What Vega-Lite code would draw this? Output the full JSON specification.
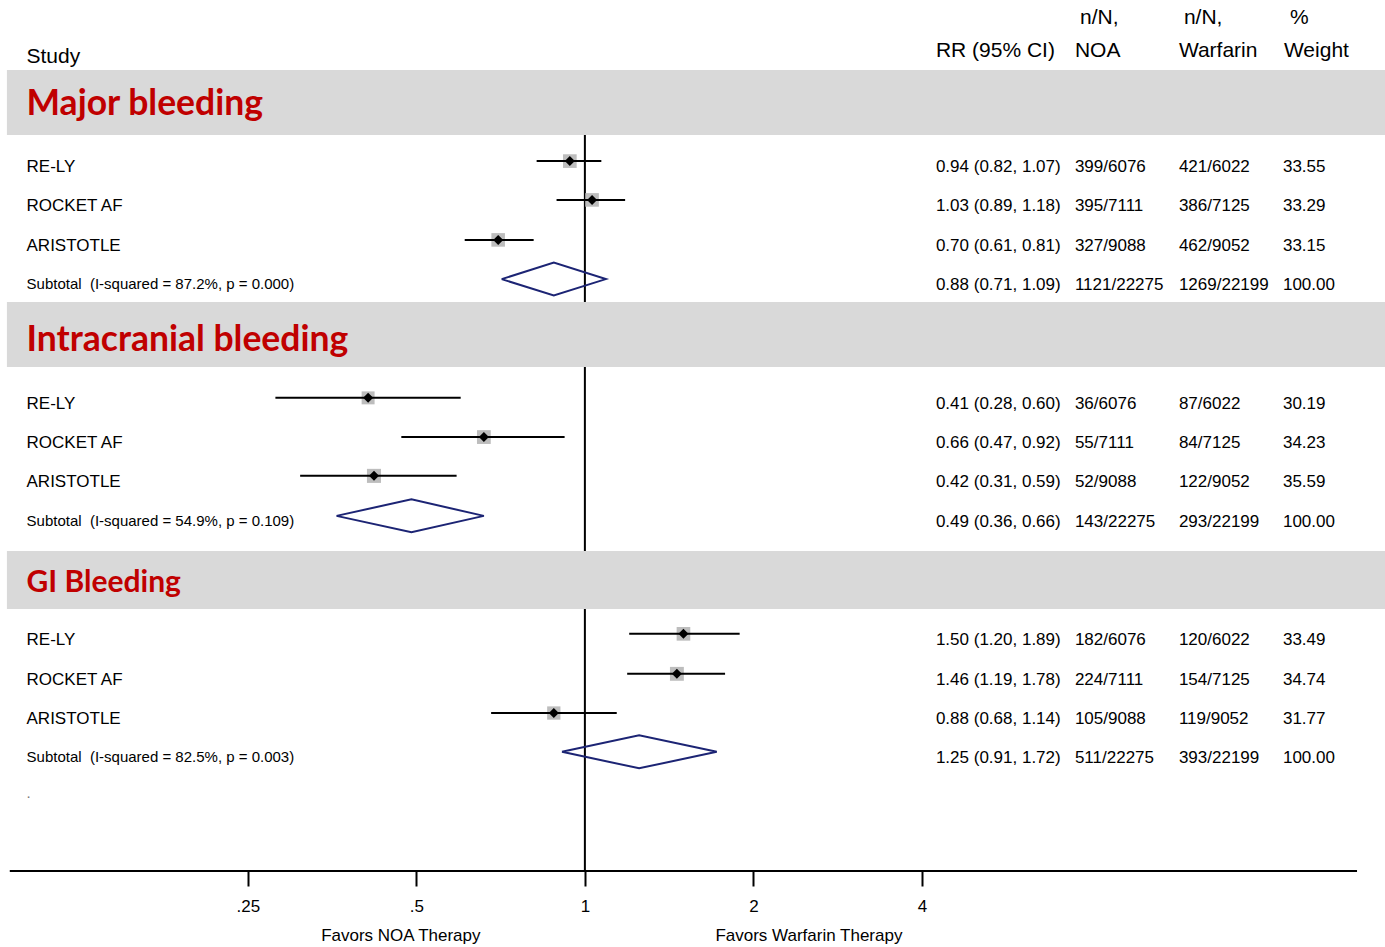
{
  "$schema": "https://vega.github.io/schema/vega-lite/v6.json",
  "width": 1385,
  "height": 871,
  "padding": 0,
  "background": "white",
  "config": {"view": {"stroke": null}, "font": "Liberation Sans", "text": {"font": "Liberation Sans", "color": "black"}},
  "datasets": {
    "rows": [
      {"grp": "Major bleeding", "kind": "study", "label": "RE-LY", "y": 4.11, "est": 0.94, "lo": 0.82, "hi": 1.07, "rr": "0.94 (0.82, 1.07)", "noa": "399/6076", "war": "421/6022", "w": 33.55},
      {"grp": "Major bleeding", "kind": "study", "label": "ROCKET AF", "y": 5.10, "est": 1.03, "lo": 0.89, "hi": 1.18, "rr": "1.03 (0.89, 1.18)", "noa": "395/7111", "war": "386/7125", "w": 33.29},
      {"grp": "Major bleeding", "kind": "study", "label": "ARISTOTLE", "y": 6.12, "est": 0.70, "lo": 0.61, "hi": 0.81, "rr": "0.70 (0.61, 0.81)", "noa": "327/9088", "war": "462/9052", "w": 33.15},
      {"grp": "Major bleeding", "kind": "subtotal", "label": "Subtotal\u00a0\u00a0(I-squared = 87.2%, p = 0.000)", "y": 7.12, "est": 0.88, "lo": 0.71, "hi": 1.09, "rr": "0.88 (0.71, 1.09)", "noa": "1121/22275", "war": "1269/22199", "w": 100.00},
      {"grp": "Intracranial bleeding", "kind": "study", "label": "RE-LY", "y": 10.15, "est": 0.41, "lo": 0.28, "hi": 0.60, "rr": "0.41 (0.28, 0.60)", "noa": "36/6076", "war": "87/6022", "w": 30.19},
      {"grp": "Intracranial bleeding", "kind": "study", "label": "ROCKET AF", "y": 11.15, "est": 0.66, "lo": 0.47, "hi": 0.92, "rr": "0.66 (0.47, 0.92)", "noa": "55/7111", "war": "84/7125", "w": 34.23},
      {"grp": "Intracranial bleeding", "kind": "study", "label": "ARISTOTLE", "y": 12.14, "est": 0.42, "lo": 0.31, "hi": 0.59, "rr": "0.42 (0.31, 0.59)", "noa": "52/9088", "war": "122/9052", "w": 35.59},
      {"grp": "Intracranial bleeding", "kind": "subtotal", "label": "Subtotal\u00a0\u00a0(I-squared = 54.9%, p = 0.109)", "y": 13.16, "est": 0.49, "lo": 0.36, "hi": 0.66, "rr": "0.49 (0.36, 0.66)", "noa": "143/22275", "war": "293/22199", "w": 100.00},
      {"grp": "GI Bleeding", "kind": "study", "label": "RE-LY", "y": 16.17, "est": 1.50, "lo": 1.20, "hi": 1.89, "rr": "1.50 (1.20, 1.89)", "noa": "182/6076", "war": "120/6022", "w": 33.49},
      {"grp": "GI Bleeding", "kind": "study", "label": "ROCKET AF", "y": 17.19, "est": 1.46, "lo": 1.19, "hi": 1.78, "rr": "1.46 (1.19, 1.78)", "noa": "224/7111", "war": "154/7125", "w": 34.74},
      {"grp": "GI Bleeding", "kind": "study", "label": "ARISTOTLE", "y": 18.19, "est": 0.88, "lo": 0.68, "hi": 1.14, "rr": "0.88 (0.68, 1.14)", "noa": "105/9088", "war": "119/9052", "w": 31.77},
      {"grp": "GI Bleeding", "kind": "subtotal", "label": "Subtotal\u00a0\u00a0(I-squared = 82.5%, p = 0.003)", "y": 19.18, "est": 1.25, "lo": 0.91, "hi": 1.72, "rr": "1.25 (0.91, 1.72)", "noa": "511/22275", "war": "393/22199", "w": 100.00}
    ],
    "dia": [
      {"grp": "Major bleeding", "ord": 1, "v": 0.71, "y": 7.12},
      {"grp": "Major bleeding", "ord": 2, "v": 0.88, "y": 6.70},
      {"grp": "Major bleeding", "ord": 3, "v": 1.09, "y": 7.12},
      {"grp": "Major bleeding", "ord": 4, "v": 0.88, "y": 7.54},
      {"grp": "Major bleeding", "ord": 5, "v": 0.71, "y": 7.12},
      {"grp": "Intracranial bleeding", "ord": 1, "v": 0.36, "y": 13.16},
      {"grp": "Intracranial bleeding", "ord": 2, "v": 0.49, "y": 12.74},
      {"grp": "Intracranial bleeding", "ord": 3, "v": 0.66, "y": 13.16},
      {"grp": "Intracranial bleeding", "ord": 4, "v": 0.49, "y": 13.58},
      {"grp": "Intracranial bleeding", "ord": 5, "v": 0.36, "y": 13.16},
      {"grp": "GI Bleeding", "ord": 1, "v": 0.91, "y": 19.18},
      {"grp": "GI Bleeding", "ord": 2, "v": 1.25, "y": 18.76},
      {"grp": "GI Bleeding", "ord": 3, "v": 1.72, "y": 19.18},
      {"grp": "GI Bleeding", "ord": 4, "v": 1.25, "y": 19.60},
      {"grp": "GI Bleeding", "ord": 5, "v": 0.91, "y": 19.18}
    ],
    "bands": [
      {"grp": "Major bleeding", "y1": 1.786, "y2": 3.444},
      {"grp": "Intracranial bleeding", "y1": 7.704, "y2": 9.362},
      {"grp": "GI Bleeding", "y1": 14.056, "y2": 15.536}
    ],
    "titles": [
      {"grp": "Major bleeding", "t": "Major bleeding", "y": 2.93},
      {"grp": "Intracranial bleeding", "t": "Intracranial bleeding", "y": 8.96},
      {"grp": "GI Bleeding", "t": "GI Bleeding", "y": 15.10}
    ],
    "headers": [
      {"col": "study", "y": 1.61, "t": "Study"},
      {"col": "rr", "y": 1.46, "t": "RR (95% CI)"},
      {"col": "noa1", "y": 0.61, "t": "n/N,"},
      {"col": "noa", "y": 1.46, "t": "NOA"},
      {"col": "war1", "y": 0.61, "t": "n/N,"},
      {"col": "war", "y": 1.46, "t": "Warfarin"},
      {"col": "wt1", "y": 0.61, "t": "%"},
      {"col": "wt", "y": 1.46, "t": "Weight"}
    ],
    "notes": [
      {"side": "noa", "t": "Favors NOA Therapy", "y": 23.88},
      {"side": "war", "t": "Favors Warfarin Therapy", "y": 23.88},
      {"side": "dot", "t": ".", "y": 20.36}
    ]
  },
  "layer": [
    {
      "data": {"values": [{"ref": 1, "y1": 3.444, "y2": 22.22}]},
      "mark": {"type": "rule", "strokeWidth": 2, "color": "black"},
      "encoding": {
        "x": {"field": "ref", "type": "quantitative", "scale": {"type": "log", "domain": [0.0902, 26.87], "nice": false},
          "axis": {"values": [0.25, 0.5, 1, 2, 4], "labelExpr": "datum.value < 1 ? replace(toString(datum.value), '0.', '.') : toString(datum.value)", "domain": false, "grid": false, "ticks": true, "tickSize": 15, "tickWidth": 2, "tickColor": "black", "labelFontSize": 17, "labelFont": "Liberation Sans", "labelColor": "black", "labelPadding": 12, "title": null, "labelFlush": false, "labelOverlap": false}},
        "y": {"field": "y1", "type": "quantitative", "scale": {"domain": [0, 22.22], "reverse": true, "nice": false, "zero": false}, "axis": null},
        "y2": {"field": "y2"}
      }
    },
    {
      "data": {"name": "bands"},
      "mark": {"type": "rect", "color": "#d9d9d9"},
      "encoding": {
        "x": {"datum": 0.0928, "type": "quantitative"},
        "x2": {"datum": 26.87},
        "y": {"field": "y1", "type": "quantitative", "axis": null},
        "y2": {"field": "y2"}
      }
    },
    {
      "data": {"name": "titles"},
      "transform": [{"filter": "datum.grp != 'GI Bleeding'"}],
      "mark": {"type": "text", "align": "left", "baseline": "alphabetic", "font": "Lato", "fontWeight": "bold", "fontSize": 35.5, "color": "#c00000"},
      "encoding": {
        "x": {"datum": 0.1006, "type": "quantitative"},
        "y": {"field": "y", "type": "quantitative", "axis": null},
        "text": {"field": "t"}
      }
    },
    {
      "data": {"name": "titles"},
      "transform": [{"filter": "datum.grp == 'GI Bleeding'"}],
      "mark": {"type": "text", "align": "left", "baseline": "alphabetic", "font": "Lato", "fontWeight": "bold", "fontSize": 30, "color": "#c00000"},
      "encoding": {
        "x": {"datum": 0.1006, "type": "quantitative"},
        "y": {"field": "y", "type": "quantitative", "axis": null},
        "text": {"field": "t"}
      }
    },
    {
      "data": {"name": "rows"},
      "transform": [{"filter": "datum.kind == 'study'"}],
      "mark": {"type": "point", "shape": "square", "filled": true, "color": "#bdbdbd", "opacity": 1},
      "encoding": {
        "x": {"field": "est", "type": "quantitative"},
        "y": {"field": "y", "type": "quantitative", "axis": null},
        "size": {"field": "w", "type": "quantitative", "scale": {"domain": [0, 36], "range": [0, 200]}, "legend": null}
      }
    },
    {
      "data": {"name": "rows"},
      "transform": [{"filter": "datum.kind == 'study'"}],
      "mark": {"type": "rule", "strokeWidth": 2, "color": "black"},
      "encoding": {
        "x": {"field": "lo", "type": "quantitative"},
        "x2": {"field": "hi"},
        "y": {"field": "y", "type": "quantitative", "axis": null}
      }
    },
    {
      "data": {"name": "rows"},
      "transform": [{"filter": "datum.kind == 'study'"}],
      "mark": {"type": "point", "shape": "diamond", "filled": true, "color": "black", "size": 100, "opacity": 1},
      "encoding": {
        "x": {"field": "est", "type": "quantitative"},
        "y": {"field": "y", "type": "quantitative", "axis": null}
      }
    },
    {
      "data": {"name": "dia"},
      "mark": {"type": "line", "strokeWidth": 2, "color": "#1c2474", "strokeJoin": "miter"},
      "encoding": {
        "x": {"field": "v", "type": "quantitative"},
        "y": {"field": "y", "type": "quantitative", "axis": null},
        "detail": {"field": "grp"},
        "order": {"field": "ord", "type": "quantitative"}
      }
    },
    {
      "data": {"name": "rows"},
      "transform": [{"filter": "datum.kind == 'study'"}],
      "mark": {"type": "text", "align": "left", "baseline": "middle", "dy": 6, "fontSize": 17},
      "encoding": {
        "x": {"datum": 0.1006, "type": "quantitative"},
        "y": {"field": "y", "type": "quantitative", "axis": null},
        "text": {"field": "label"}
      }
    },
    {
      "data": {"name": "rows"},
      "transform": [{"filter": "datum.kind == 'subtotal'"}],
      "mark": {"type": "text", "align": "left", "baseline": "middle", "dy": 5, "fontSize": 15},
      "encoding": {
        "x": {"datum": 0.1006, "type": "quantitative"},
        "y": {"field": "y", "type": "quantitative", "axis": null},
        "text": {"field": "label"}
      }
    },
    {
      "data": {"name": "rows"},
      "mark": {"type": "text", "align": "left", "baseline": "middle", "dy": 6, "fontSize": 17},
      "encoding": {
        "x": {"datum": 4.237, "type": "quantitative"},
        "y": {"field": "y", "type": "quantitative", "axis": null},
        "text": {"field": "rr"}
      }
    },
    {
      "data": {"name": "rows"},
      "mark": {"type": "text", "align": "left", "baseline": "middle", "dy": 6, "fontSize": 17},
      "encoding": {
        "x": {"datum": 7.505, "type": "quantitative"},
        "y": {"field": "y", "type": "quantitative", "axis": null},
        "text": {"field": "noa"}
      }
    },
    {
      "data": {"name": "rows"},
      "mark": {"type": "text", "align": "left", "baseline": "middle", "dy": 6, "fontSize": 17},
      "encoding": {
        "x": {"datum": 11.51, "type": "quantitative"},
        "y": {"field": "y", "type": "quantitative", "axis": null},
        "text": {"field": "war"}
      }
    },
    {
      "data": {"name": "rows"},
      "mark": {"type": "text", "align": "left", "baseline": "middle", "dy": 6, "fontSize": 17},
      "encoding": {
        "x": {"datum": 17.66, "type": "quantitative"},
        "y": {"field": "y", "type": "quantitative", "axis": null},
        "text": {"field": "w", "format": ".2f"}
      }
    },
    {
      "data": {"name": "headers"},
      "transform": [{"filter": "datum.col == 'study'"}],
      "mark": {"type": "text", "align": "left", "baseline": "alphabetic", "fontSize": 21},
      "encoding": {
        "x": {"datum": 0.1006, "type": "quantitative"},
        "y": {"field": "y", "type": "quantitative", "axis": null},
        "text": {"field": "t"}
      }
    },
    {
      "data": {"name": "headers"},
      "transform": [{"filter": "datum.col == 'rr'"}],
      "mark": {"type": "text", "align": "left", "baseline": "alphabetic", "fontSize": 21},
      "encoding": {
        "x": {"datum": 4.237, "type": "quantitative"},
        "y": {"field": "y", "type": "quantitative", "axis": null},
        "text": {"field": "t"}
      }
    },
    {
      "data": {"name": "headers"},
      "transform": [{"filter": "datum.col == 'noa'"}],
      "mark": {"type": "text", "align": "left", "baseline": "alphabetic", "fontSize": 21},
      "encoding": {
        "x": {"datum": 7.505, "type": "quantitative"},
        "y": {"field": "y", "type": "quantitative", "axis": null},
        "text": {"field": "t"}
      }
    },
    {
      "data": {"name": "headers"},
      "transform": [{"filter": "datum.col == 'noa1'"}],
      "mark": {"type": "text", "align": "left", "baseline": "alphabetic", "fontSize": 21},
      "encoding": {
        "x": {"datum": 7.662, "type": "quantitative"},
        "y": {"field": "y", "type": "quantitative", "axis": null},
        "text": {"field": "t"}
      }
    },
    {
      "data": {"name": "headers"},
      "transform": [{"filter": "datum.col == 'war'"}],
      "mark": {"type": "text", "align": "left", "baseline": "alphabetic", "fontSize": 21},
      "encoding": {
        "x": {"datum": 11.51, "type": "quantitative"},
        "y": {"field": "y", "type": "quantitative", "axis": null},
        "text": {"field": "t"}
      }
    },
    {
      "data": {"name": "headers"},
      "transform": [{"filter": "datum.col == 'war1'"}],
      "mark": {"type": "text", "align": "left", "baseline": "alphabetic", "fontSize": 21},
      "encoding": {
        "x": {"datum": 11.75, "type": "quantitative"},
        "y": {"field": "y", "type": "quantitative", "axis": null},
        "text": {"field": "t"}
      }
    },
    {
      "data": {"name": "headers"},
      "transform": [{"filter": "datum.col == 'wt'"}],
      "mark": {"type": "text", "align": "left", "baseline": "alphabetic", "fontSize": 21},
      "encoding": {
        "x": {"datum": 17.73, "type": "quantitative"},
        "y": {"field": "y", "type": "quantitative", "axis": null},
        "text": {"field": "t"}
      }
    },
    {
      "data": {"name": "headers"},
      "transform": [{"filter": "datum.col == 'wt1'"}],
      "mark": {"type": "text", "align": "left", "baseline": "alphabetic", "fontSize": 21},
      "encoding": {
        "x": {"datum": 18.17, "type": "quantitative"},
        "y": {"field": "y", "type": "quantitative", "axis": null},
        "text": {"field": "t"}
      }
    },
    {
      "data": {"values": [{"a": 0.0939, "b": 23.95, "y": 22.22}]},
      "mark": {"type": "rule", "strokeWidth": 2, "color": "black"},
      "encoding": {
        "x": {"field": "a", "type": "quantitative"},
        "x2": {"field": "b"},
        "y": {"field": "y", "type": "quantitative", "axis": null}
      }
    },
    {
      "data": {"name": "notes"},
      "transform": [{"filter": "datum.side == 'noa'"}],
      "mark": {"type": "text", "align": "center", "baseline": "middle", "fontSize": 17},
      "encoding": {
        "x": {"datum": 0.469, "type": "quantitative"},
        "y": {"field": "y", "type": "quantitative", "axis": null},
        "text": {"field": "t"}
      }
    },
    {
      "data": {"name": "notes"},
      "transform": [{"filter": "datum.side == 'war'"}],
      "mark": {"type": "text", "align": "center", "baseline": "middle", "fontSize": 17},
      "encoding": {
        "x": {"datum": 2.513, "type": "quantitative"},
        "y": {"field": "y", "type": "quantitative", "axis": null},
        "text": {"field": "t"}
      }
    },
    {
      "data": {"name": "notes"},
      "transform": [{"filter": "datum.side == 'dot'"}],
      "mark": {"type": "text", "align": "left", "baseline": "alphabetic", "fontSize": 15, "color": "#777777"},
      "encoding": {
        "x": {"datum": 0.1006, "type": "quantitative"},
        "y": {"field": "y", "type": "quantitative", "axis": null},
        "text": {"field": "t"}
      }
    }
  ]
}
